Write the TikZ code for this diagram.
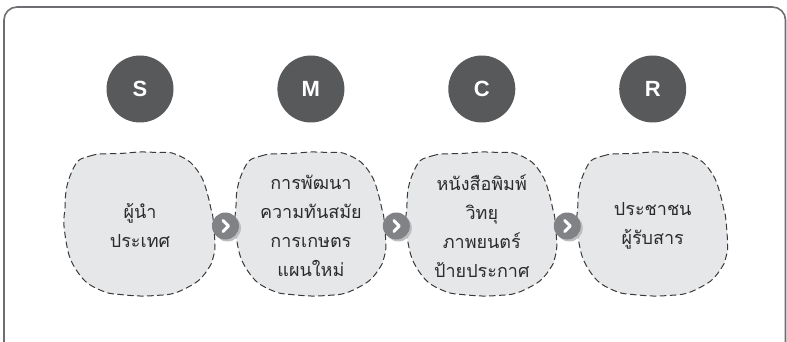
\documentclass[tikz,border=0pt]{standalone}
\usepackage{fontspec}
\setmainfont{Liberation Sans}
\newfontfamily\thaifont[Script=Thai]{Loma}
\usetikzlibrary{positioning,calc,backgrounds,shadows}
\definecolor{framegray}{HTML}{6D6E71}
\definecolor{darkdisc}{HTML}{58595B}
\definecolor{blobfill}{HTML}{E6E7E8}
\definecolor{blobink}{HTML}{3A3A3A}
\definecolor{btngray}{HTML}{808285}
\definecolor{btnshade}{HTML}{BCBEC0}
\definecolor{ink}{HTML}{2B2B2B}
\tikzset{
    every picture/.style={line cap=round,line join=round},
    framebox/.style={draw=framegray,line width=1.6pt,rounded corners=13pt},
    lettercircle/.style={circle,fill=darkdisc,minimum size=67pt,inner sep=0pt,
      text=white,font=\fontsize{22}{22}\selectfont\bfseries},
    blobline/.style={draw=blobink,fill=blobfill,line width=1pt,
      dash pattern=on 6.5pt off 3.5pt},
    blobtext/.style={text=ink,align=center,
      font=\thaifont\fontsize{18}{29}\selectfont},
    nextbtn/.style={circle,fill=btngray,minimum size=27pt,inner sep=0pt,
      drop shadow={shadow xshift=2pt,shadow yshift=-2pt,fill=btnshade,opacity=1}},
    chevron/.style={draw=white,line width=3pt}
}

\begin{document}
\begin{tikzpicture}[x=1pt,y=-1pt]
  \useasboundingbox (0,0) rectangle (787,342);
  \draw[framebox] (4,7) rectangle (785.5,356);
  % letters on top
  \node[lettercircle] (s) at (140,89) {S};
  \node[lettercircle,right=103.5pt of s] (m) {M};
  \node[lettercircle,right=103.5pt of m] (c) {C};
  \node[lettercircle,right=103.5pt of c] (r) {R};
  % texts in the blobs
  \coordinate (row) at (0,226);
  \node[blobtext] (t1) at (s |- row) {ผู้นำ\\ประเทศ};
  \node[blobtext] (t2) at (m |- row) {การพัฒนา\\ความทันสมัย\\การเกษตร\\แผนใหม่};
  \node[blobtext] (t3) at (c |- row) {หนังสือพิมพ์\\วิทยุ\\ภาพยนตร์\\ป้ายประกาศ};
  \node[blobtext] (t4) at (r |- row) {ประชาชน\\ผู้รับสาร};
  \begin{scope}[on background layer]
    \foreach \t in {t1,t2,t3,t4}
      \draw[blobline,shift={(\t.center)}] plot[smooth cycle,tension=0.55] coordinates {
        (-62,-65) (-50,-70) (-40,-72) (-20,-72.5) (0,-74) (18,-73.5) (32,-73)
        (50,-64) (62,-48) (68,-30) (71,-17) (73,-8) (75,20) (73,32) (70,40)
        (58,55) (35,67) (15,69.5) (0,70) (-20,68.5) (-35,66) (-55,55)
        (-70,32) (-76,0) (-75,-18) (-74,-35) (-70,-50)};
  \end{scope}
  % next buttons
  \node[nextbtn] (b1) at ($(t1)!0.5!(t2)$) {};
  \node[nextbtn] (b2) at ($(t2)!0.5!(t3)$) {};
  \node[nextbtn] (b3) at ($(t3)!0.5!(t4)$) {};
  \foreach \b in {b1,b2,b3}
    \draw[chevron] ($(\b)+(-2.5,-5.5)$) -- ($(\b)+(3,0)$) -- ($(\b)+(-2.5,5.5)$);
\end{tikzpicture}
\end{document}
